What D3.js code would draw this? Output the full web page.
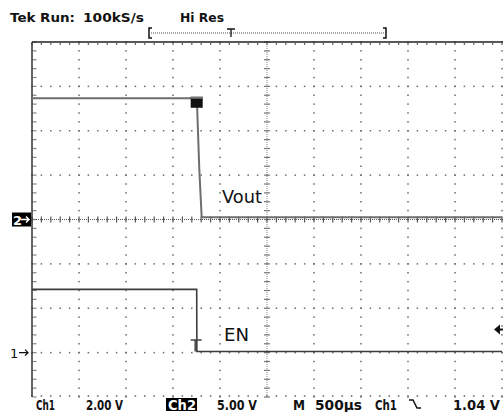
<!DOCTYPE html>
<html><head><meta charset="utf-8">
<script src="https://cdn.jsdelivr.net/npm/d3@7"></script>
<style>body{margin:0;background:#fff}svg{display:block}</style>
</head><body><svg id="c" width="503" height="412"></svg>
<script>
// time in ms (M 500µs/div, 10 div), volts
const timeDomain = [0, 5];
const enTime  = [0, 1.752, 1.754, 5];
const enVolts = [2.85, 2.85, 0.05, 0.05];
const voutTime  = [0, 1.752, 1.756, 1.78, 1.805, 5];
const voutVolts = [13.66, 13.66, 12.9, 5.6, 0.24, 0.24];
const ch1Range = [-2, 14];   // 2.00 V/div, ground 3 div below centre
const ch2Range = [-20, 20];  // 5.00 V/div, ground at centre
const triggerLevel = 1.04;
const triggerTime = 1.752;
const headerLabels = ["Tek Run:", "100kS/s", "Hi Res"];
const footerLabels = ["Ch1", "2.00 V", "Ch2", "5.00 V", "M", "500µs", "Ch1", "1.04 V"];
const traceLabels = ["Vout", "EN"];

const svg = d3.select("#c");
const L = 32, R = 502, T = 42, B = 397;
const x = d3.scaleLinear().domain(timeDomain).range([L, R]);
const y1 = d3.scaleLinear().domain(ch1Range).range([B, T]);
const y2 = d3.scaleLinear().domain(ch2Range).range([B, T]);
const xd = d3.scaleLinear().domain([0, 10]).range([L, R]);
const yd = d3.scaleLinear().domain([-4, 4]).range([B, T]);
const font = "'DejaVu Sans', Verdana, sans-serif";

const grid = svg.append("g");
const dot = (cx, cy, w, h, col) => grid.append("rect").attr("x", cx - w/2).attr("y", cy - h/2)
  .attr("width", w).attr("height", h).attr("fill", col || "#6a6a6a");

const minorX = d3.range(0, 50.01, 1).map(i => i / 5);
const minorY = d3.range(-20, 20.01, 1).map(i => i / 5);

// major vertical lines: dots at minor y
for (let i = 1; i <= 10; i++) {
  if (i === 5) continue;
  minorY.forEach(v => dot(xd(i), yd(v), 1.5, 1.5));
}
// major horizontal lines: dots at minor x
for (let j = -3; j <= 3; j++) {
  if (j === 0) continue;
  minorX.forEach(v => dot(xd(v), yd(j), 1.5, 1.5));
}
// top inner ticks & bottom dotted
minorX.forEach(v => { dot(xd(v), T + 2, 1.3, 2); dot(xd(v), B - 1, 1.5, 1.6); });
// left border ticks
minorY.forEach(v => dot(L + 2.5, yd(v), 4, 1.2, "#888"));

// centre cross (fine dotted + minor ticks)
grid.append("line").attr("x1", xd(5)).attr("x2", xd(5)).attr("y1", T).attr("y2", B)
  .attr("stroke", "#888").attr("stroke-width", 1).attr("stroke-dasharray", "1,1");
grid.append("line").attr("x1", L).attr("x2", 503).attr("y1", yd(0)).attr("y2", yd(0))
  .attr("stroke", "#555").attr("stroke-width", 1).attr("stroke-dasharray", "1,1");
minorY.forEach(v => dot(xd(5), yd(v), 6, 1.2, "#777"));
minorX.forEach(v => dot(xd(v), yd(0), 1.2, 6, "#555"));

// borders
grid.append("line").attr("x1", L).attr("x2", 503).attr("y1", T).attr("y2", T).attr("stroke", "#222").attr("stroke-width", 1.5);
grid.append("line").attr("x1", L).attr("x2", L).attr("y1", T).attr("y2", B).attr("stroke", "#333").attr("stroke-width", 1.5);

// traces
const line = (ys) => d3.line().x(d => x(d[0])).y(d => ys(d[1]));
svg.append("path").datum(d3.zip(voutTime, voutVolts)).attr("d", line(y2))
  .attr("fill", "none").attr("stroke", "#6e6e6e").attr("stroke-width", 2);
svg.append("path").datum(d3.zip(enTime, enVolts)).attr("d", line(y1))
  .attr("fill", "none").attr("stroke", "#3c3c3c").attr("stroke-width", 1.6);

// vout marker square
svg.append("rect").attr("x", x(triggerTime) - 6).attr("y", y2(voutVolts[0]) - 1.5)
  .attr("width", 12).attr("height", 11).attr("fill", "#111");
svg.append("rect").attr("x", x(triggerTime) - 6).attr("y", y2(voutVolts[0]) - 1.5)
  .attr("width", 12).attr("height", 2).attr("fill", "#777");

// trigger T on EN
const ty = y1(enVolts[3]) - 11.5;
svg.append("line").attr("x1", x(triggerTime) - 6).attr("x2", x(triggerTime) + 5).attr("y1", ty).attr("y2", ty)
  .attr("stroke", "#444").attr("stroke-width", 1.5);
svg.append("line").attr("x1", x(triggerTime) - 1.5).attr("x2", x(triggerTime) - 1.5).attr("y1", ty).attr("y2", y1(enVolts[3]))
  .attr("stroke", "#444").attr("stroke-width", 1.5);

// trace labels
svg.append("text").attr("x", 222).attr("y", 203).attr("font-family", font).attr("font-size", 17.5)
  .attr("textLength", 40).attr("lengthAdjust", "spacingAndGlyphs").attr("fill", "#111").text(traceLabels[0]);
svg.append("text").attr("x", 224).attr("y", 341).attr("font-family", font).attr("font-size", 17.5)
  .attr("textLength", 25).attr("lengthAdjust", "spacingAndGlyphs").attr("fill", "#111").text(traceLabels[1]);

// ground markers
svg.append("rect").attr("x", 12).attr("y", y2(0) - 7).attr("width", 19).attr("height", 14).attr("fill", "#000");
svg.append("text").attr("x", 13).attr("y", y2(0) + 5).attr("font-family", font).attr("font-weight", "bold")
  .attr("font-size", 13).attr("fill", "#fff").text("2");
svg.append("path").attr("d", `M21,${y2(0)}h8m-3,-3l3,3l-3,3`).attr("stroke", "#fff").attr("stroke-width", 1.5).attr("fill", "none");
svg.append("text").attr("x", 10).attr("y", y1(0) + 5).attr("font-family", font)
  .attr("font-size", 13).attr("fill", "#111").text("1");
svg.append("path").attr("d", `M19,${y1(0)}h9m-3,-3l3,3l-3,3`).attr("stroke", "#111").attr("stroke-width", 1.3).attr("fill", "none");

// trigger level arrow (right)
const ta = y1(triggerLevel);
svg.append("path").attr("d", `M494,${ta}L500,${ta - 5}L500,${ta + 5}Z`).attr("fill", "#111");
svg.append("line").attr("x1", 499).attr("x2", 503).attr("y1", ta).attr("y2", ta).attr("stroke", "#111").attr("stroke-width", 2);

// header
const hdr = [[10, 65], [83, 61], [180, 44]];
headerLabels.forEach((t, i) => svg.append("text").attr("x", hdr[i][0]).attr("y", 22)
  .attr("font-family", font).attr("font-weight", "bold").attr("font-size", 13)
  .attr("textLength", hdr[i][1]).attr("lengthAdjust", "spacingAndGlyphs").attr("fill", "#111").text(t));

// record bracket
const by = 33;
svg.append("line").attr("x1", 151).attr("x2", 385).attr("y1", by).attr("y2", by)
  .attr("stroke", "#555").attr("stroke-width", 1).attr("stroke-dasharray", "1,1");
svg.append("path").attr("d", `M152,${by - 5}h-3v10h3`).attr("stroke", "#111").attr("stroke-width", 1.5).attr("fill", "none");
svg.append("path").attr("d", `M383,${by - 5}h3v10h-3`).attr("stroke", "#111").attr("stroke-width", 1.5).attr("fill", "none");
svg.append("path").attr("d", `M227,${by - 4}h8M231,${by - 4}v8`).attr("stroke", "#111").attr("stroke-width", 1.3).attr("fill", "none");

// footer
const fy = 409.5;
const ftr = [[36, 19], [86, 37], [168, 28], [217, 40], [293, 12], [315, 47], [375, 22], [453, 47]];
svg.append("rect").attr("x", 166).attr("y", 398).attr("width", 31).attr("height", 13).attr("fill", "#000");
footerLabels.forEach((t, i) => svg.append("text").attr("x", ftr[i][0]).attr("y", fy)
  .attr("font-family", font).attr("font-weight", "bold").attr("font-size", 14)
  .attr("textLength", ftr[i][1]).attr("lengthAdjust", "spacingAndGlyphs")
  .attr("fill", i === 2 ? "#fff" : "#111").text(t));
// falling slope symbol
svg.append("path").attr("d", "M409,400h4l4,8h4").attr("stroke", "#111").attr("stroke-width", 1.5).attr("fill", "none");
</script></body></html>
